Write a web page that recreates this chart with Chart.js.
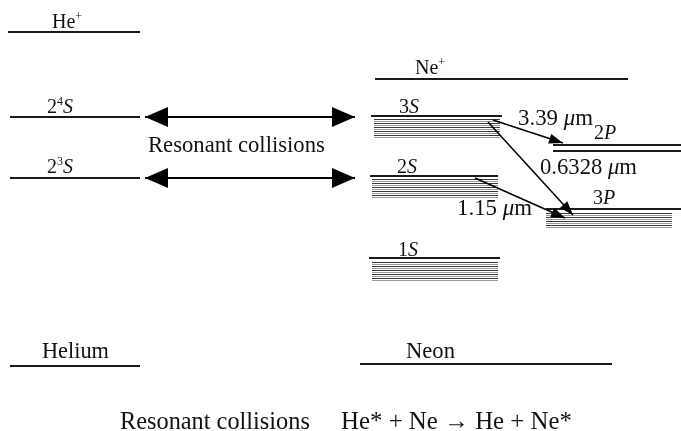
<!DOCTYPE html>
<html>
<head>
<meta charset="utf-8">
<script src="https://cdn.jsdelivr.net/npm/chart.js@4.4.0/dist/chart.umd.min.js"></script>
<style>
  html, body { margin: 0; padding: 0; background: #fff; }
  canvas { display: block; }
</style>
</head>
<body>
<canvas id="diagrama" width="681" height="431"></canvas>
<script>
// Níveis de energia do laser He-Ne (eixo y = energia, em unidades do desenho)
const niveisHe = ["He+", "2⁴S", "2³S", "Helium"];
const energiaHe = [399, 314, 253, 65];
const inicioHe = [8, 10, 10, 10];
const fimHe = [140, 140, 140, 140];

const niveisNe = ["Ne+", "3S", "2P", "2P'", "2S", "3P", "1S", "Neon"];
const energiaNe = [352, 315, 286, 280, 255, 222, 173, 67];
const inicioNe = [375, 371, 553, 553, 370, 546, 369, 360];
const fimNe = [628, 502, 681, 681, 498, 681, 500, 612];

// faixas tracejadas abaixo dos níveis S e 3P
const faixas = ["3S", "2S", "1S", "3P"];
const faixaTopo = [312, 252, 169, 218];
const faixaBase = [294, 233, 151, 204];
const faixaInicio = [374, 372, 372, 546];
const faixaFim = [500, 498, 498, 672];

// transições laser (de -> para)
const transicoes = ["3.39 μm", "0.6328 μm", "1.15 μm"];
const transX0 = [493, 488, 475];
const transY0 = [311, 309, 253];
const transX1 = [563, 573, 565];
const transY1 = [288, 216, 213];

// colisões ressonantes (setas duplas)
const colisoes = [314, 253];
const colisaoX0 = 145;
const colisaoX1 = 355;

// rótulos: texto com ^ = sobrescrito e *...* = itálico
const rotulos = [
  { t: "He^+", x: 52, y: 403, s: 20 },
  { t: "2^4*S*", x: 47, y: 318, s: 20 },
  { t: "2^3*S*", x: 47, y: 258, s: 20 },
  { t: "Resonant collisions", x: 148, y: 279, s: 21, w: 177 },
  { t: "Ne^+", x: 415, y: 357, s: 20 },
  { t: "3*S*", x: 399, y: 318, s: 20 },
  { t: "2*S*", x: 397, y: 258, s: 20 },
  { t: "1*S*", x: 398, y: 175, s: 20 },
  { t: "3.39 *μ*m", x: 518, y: 306, s: 20, w: 75 },
  { t: "2*P*", x: 594, y: 292, s: 20 },
  { t: "0.6328 *μ*m", x: 540, y: 257, s: 20, w: 97 },
  { t: "3*P*", x: 593, y: 227, s: 20 },
  { t: "1.15 *μ*m", x: 457, y: 216, s: 20, w: 75 },
  { t: "Helium", x: 42, y: 73, s: 21, w: 67 },
  { t: "Neon", x: 406, y: 73, s: 21, w: 49 },
  { t: "Resonant collisions", x: 120, y: 2, s: 22, w: 190 },
  { t: "He* + Ne → He + Ne*", x: 341, y: 2, s: 22, w: 231 }
];

const fonte = '"Liberation Serif", "Times New Roman", serif';
const cor = "#1a1a1a";

const datasets = [];
niveisHe.forEach((n, i) => {
  datasets.push({
    label: n, tipo: "nivel",
    data: [{ x: inicioHe[i], y: energiaHe[i] }, { x: fimHe[i], y: energiaHe[i] }],
    borderColor: cor, borderWidth: 2
  });
});
niveisNe.forEach((n, i) => {
  datasets.push({
    label: n, tipo: "nivel",
    data: [{ x: inicioNe[i], y: energiaNe[i] }, { x: fimNe[i], y: energiaNe[i] }],
    borderColor: cor, borderWidth: 2
  });
});
colisoes.forEach((e, i) => {
  datasets.push({
    label: "colisao" + i, tipo: "dupla",
    data: [{ x: colisaoX0, y: e }, { x: colisaoX1, y: e }],
    borderColor: "#000", borderWidth: 2
  });
});
transicoes.forEach((t, i) => {
  datasets.push({
    label: t, tipo: "seta",
    data: [{ x: transX0[i], y: transY0[i] }, { x: transX1[i], y: transY1[i] }],
    borderColor: "#000", borderWidth: 1.5
  });
});

function ponta(ctx, x0, y0, x1, y1, comp, meia) {
  const a = Math.atan2(y1 - y0, x1 - x0);
  ctx.save();
  ctx.translate(x1, y1);
  ctx.rotate(a);
  ctx.beginPath();
  ctx.moveTo(0, 0);
  ctx.lineTo(-comp, -meia);
  ctx.lineTo(-comp, meia);
  ctx.closePath();
  ctx.fillStyle = "#000";
  ctx.fill();
  ctx.restore();
}

function segmentos(txt) {
  const out = [];
  let it = false;
  for (let i = 0; i < txt.length; i++) {
    const c = txt[i];
    if (c === "*" && !(txt[i - 1] === "e" && (txt[i + 1] === " " || i === txt.length - 1))) { it = !it; continue; }
    if (c === "^") { out.push({ t: txt[++i], it: it, sup: true }); continue; }
    const ult = out[out.length - 1];
    if (ult && ult.it === it && !ult.sup) ult.t += c;
    else out.push({ t: c, it: it, sup: false });
  }
  return out;
}

function fonteSeg(sg, s) {
  return (sg.it ? "italic " : "") + (sg.sup ? Math.round(s * 0.62) : s) + "px " + fonte;
}

const pluginDesenho = {
  id: "desenho",
  beforeDatasetsDraw(chart) {
    const ctx = chart.ctx;
    const sx = chart.scales.x, sy = chart.scales.y;
    ctx.save();
    ctx.lineWidth = 1;
    faixas.forEach((f, i) => {
      const x0 = sx.getPixelForValue(faixaInicio[i]);
      const x1 = sx.getPixelForValue(faixaFim[i]);
      const y0 = Math.round(sy.getPixelForValue(faixaTopo[i]));
      const y1 = Math.round(sy.getPixelForValue(faixaBase[i]));
      let k = 0;
      for (let y = y0; y <= y1; y += 2, k++) {
        ctx.strokeStyle = k % 2 ? "#9a9a9a" : "#3a3a3a";
        ctx.beginPath();
        ctx.moveTo(x0, y + 0.5);
        ctx.lineTo(x1, y + 0.5);
        ctx.stroke();
      }
    });
    ctx.restore();
  },
  afterDatasetsDraw(chart) {
    const ctx = chart.ctx;
    const sx = chart.scales.x, sy = chart.scales.y;
    chart.data.datasets.forEach((ds, i) => {
      const p = chart.getDatasetMeta(i).data;
      if (ds.tipo === "dupla") {
        ponta(ctx, p[0].x, p[0].y, p[1].x, p[1].y, 23, 10);
        ponta(ctx, p[1].x, p[1].y, p[0].x, p[0].y, 23, 10);
      } else if (ds.tipo === "seta") {
        ponta(ctx, p[0].x, p[0].y, p[1].x, p[1].y, 14, 5);
      }
    });
    ctx.save();
    ctx.fillStyle = "#111";
    ctx.textBaseline = "alphabetic";
    rotulos.forEach(r => {
      const segs = segmentos(r.t);
      let s = r.s;
      const medir = tam => segs.reduce((a, sg) => { ctx.font = fonteSeg(sg, tam); return a + ctx.measureText(sg.t).width; }, 0);
      if (r.w) s = s * r.w / medir(s);
      let x = sx.getPixelForValue(r.x);
      const y = sy.getPixelForValue(r.y);
      segs.forEach(sg => {
        ctx.font = fonteSeg(sg, s);
        ctx.fillText(sg.t, x, sg.sup ? y - s * 0.38 : y);
        x += ctx.measureText(sg.t).width;
      });
    });
    ctx.restore();
  }
};

new Chart(document.getElementById("diagrama"), {
  type: "scatter",
  data: { datasets: datasets },
  options: {
    responsive: false,
    animation: false,
    showLine: true,
    elements: { point: { radius: 0, hoverRadius: 0 }, line: { tension: 0, borderCapStyle: "butt" } },
    layout: { padding: 0 },
    plugins: { legend: { display: false }, tooltip: { enabled: false } },
    scales: {
      x: { type: "linear", min: 0, max: 681, display: false },
      y: { type: "linear", min: 0, max: 431, display: false }
    }
  },
  plugins: [pluginDesenho]
});
</script>
</body>
</html>
